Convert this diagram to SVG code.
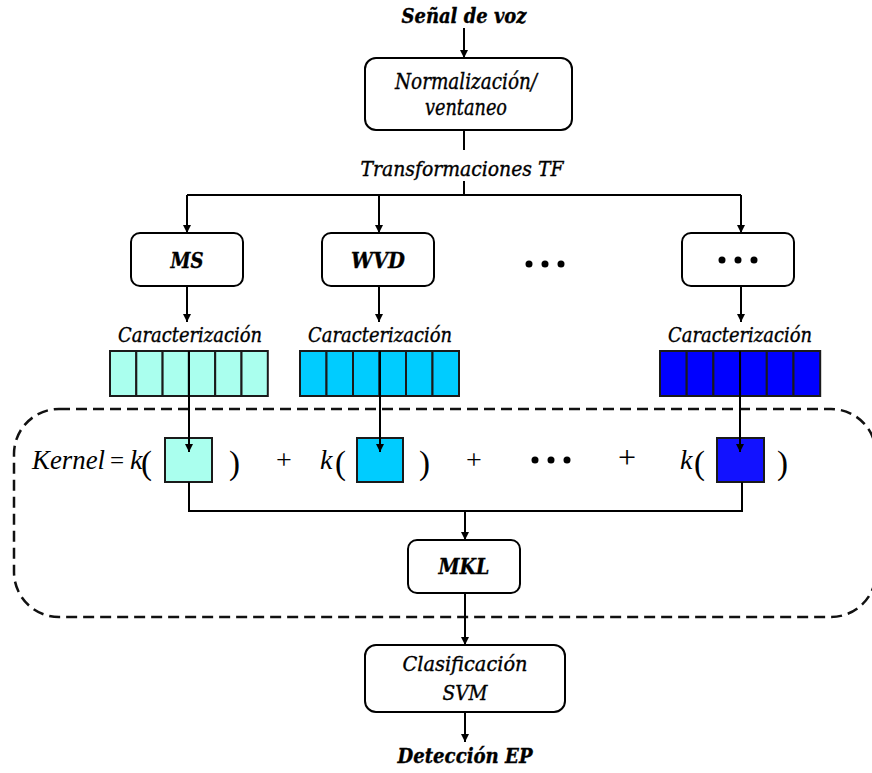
<svg xmlns="http://www.w3.org/2000/svg" width="872" height="773" viewBox="0 0 872 773">
<style>
.box{fill:#fff;stroke:#000;stroke-width:2}
.ln{fill:none;stroke:#000;stroke-width:2}
.t{font-family:"DejaVu Serif","Liberation Serif",serif;font-style:italic;font-stretch:condensed;fill:#000;stroke:#000;stroke-width:0.35}
.m{font-family:"Liberation Serif",serif;font-style:italic;fill:#000}
.r{font-family:"Liberation Serif",serif;fill:#000}
.b{font-weight:bold}
.cell{stroke:#1a1a1a;stroke-width:2}
.c1{fill:#aaffee}
.c2{fill:#00ccff}
.c3{fill:#0000ff}
.c3s{fill:#1212ff}
</style>
<defs>
<marker id="ah" viewBox="0 0 10 10" refX="10" refY="5" markerWidth="8" markerHeight="8" markerUnits="userSpaceOnUse" orient="auto">
<path d="M0,0 L10,5 L0,10 z" fill="#000"/>
</marker>
</defs>
<rect x="14" y="409" width="862" height="208" rx="45" fill="none" stroke="#111" stroke-width="2.5" stroke-dasharray="11 6"/>
<g id="input"><text class="t b" x="464" y="23" font-size="21" text-anchor="middle" textLength="125" lengthAdjust="spacingAndGlyphs">Señal de voz</text></g>
<g id="norm">
<rect class="box" x="365" y="58" width="207" height="72" rx="11"/>
<text class="t" x="466" y="89" font-size="22" text-anchor="middle" textLength="142" lengthAdjust="spacingAndGlyphs">Normalización/</text>
<text class="t" x="466" y="115" font-size="22" text-anchor="middle" textLength="82" lengthAdjust="spacingAndGlyphs">ventaneo</text>
</g>
<g id="tf-label"><text class="t" x="462" y="176" font-size="21" text-anchor="middle" textLength="203" lengthAdjust="spacingAndGlyphs">Transformaciones TF</text></g>
<g id="ms">
<rect class="box" x="131" y="233" width="112" height="53" rx="9"/>
<text class="t b" x="187" y="268" font-size="22" text-anchor="middle" textLength="33" lengthAdjust="spacingAndGlyphs">MS</text>
</g>
<g id="wvd">
<rect class="box" x="322" y="233" width="112" height="53" rx="9"/>
<text class="t b" x="378" y="268" font-size="22" text-anchor="middle" textLength="54" lengthAdjust="spacingAndGlyphs">WVD</text>
</g>
<g id="dots-mid">
<circle cx="529" cy="264" r="3.5"/><circle cx="545" cy="264" r="3.5"/><circle cx="561" cy="264" r="3.5"/>
</g>
<g id="other">
<rect class="box" x="682" y="233" width="112" height="53" rx="9"/>
<circle cx="722" cy="260" r="3.5"/><circle cx="738" cy="260" r="3.5"/><circle cx="754" cy="260" r="3.5"/>
</g>
<g id="feat1">
<text class="t" x="190" y="342" font-size="21" text-anchor="middle" textLength="144" lengthAdjust="spacingAndGlyphs">Caracterización</text>
<rect class="cell c1" x="110" y="351" width="26.3" height="45"/><rect class="cell c1" x="136.3" y="351" width="26.3" height="45"/><rect class="cell c1" x="162.6" y="351" width="26.3" height="45"/><rect class="cell c1" x="188.9" y="351" width="26.3" height="45"/><rect class="cell c1" x="215.2" y="351" width="26.3" height="45"/><rect class="cell c1" x="241.5" y="351" width="26.3" height="45"/>
</g>
<g id="feat2">
<text class="t" x="380" y="342" font-size="21" text-anchor="middle" textLength="144" lengthAdjust="spacingAndGlyphs">Caracterización</text>
<rect class="cell c2" x="300" y="351" width="26.5" height="45"/><rect class="cell c2" x="326.5" y="351" width="26.5" height="45"/><rect class="cell c2" x="353" y="351" width="26.5" height="45"/><rect class="cell c2" x="379.5" y="351" width="26.5" height="45"/><rect class="cell c2" x="406" y="351" width="26.5" height="45"/><rect class="cell c2" x="432.5" y="351" width="26.5" height="45"/>
</g>
<g id="feat3">
<text class="t" x="740" y="342" font-size="21" text-anchor="middle" textLength="144" lengthAdjust="spacingAndGlyphs">Caracterización</text>
<rect class="cell c3" x="660" y="351" width="26.7" height="45"/><rect class="cell c3" x="686.7" y="351" width="26.7" height="45"/><rect class="cell c3" x="713.4" y="351" width="26.7" height="45"/><rect class="cell c3" x="740.1" y="351" width="26.7" height="45"/><rect class="cell c3" x="766.8" y="351" width="26.7" height="45"/><rect class="cell c3" x="793.5" y="351" width="26.7" height="45"/>
</g>
<g id="kernel">
<text class="m" x="32" y="469" font-size="27" textLength="73" lengthAdjust="spacingAndGlyphs">Kernel</text>
<text class="r" x="110" y="469" font-size="25">=</text>
<text class="m" x="130" y="469" font-size="28">k</text>
<text class="r" x="141" y="474" font-size="33">(</text>
<rect class="cell c1" x="165" y="438" width="47" height="44"/>
<text class="r" x="229" y="474" font-size="33">)</text>
<text class="r" x="284" y="469" font-size="28" text-anchor="middle">+</text>
<text class="m" x="320" y="469" font-size="28">k</text>
<text class="r" x="335" y="474" font-size="33">(</text>
<rect class="cell c2" x="357" y="438" width="46" height="44"/>
<text class="r" x="419" y="474" font-size="33">)</text>
<text class="r" x="474" y="469" font-size="28" text-anchor="middle">+</text>
<circle cx="535" cy="460" r="3.5"/><circle cx="551" cy="460" r="3.5"/><circle cx="567" cy="460" r="3.5"/>
<text class="r" x="627" y="468" font-size="32" text-anchor="middle">+</text>
<text class="m" x="680" y="469" font-size="28">k</text>
<text class="r" x="694" y="474" font-size="33">(</text>
<rect class="cell c3s" x="717" y="438" width="47" height="44"/>
<text class="r" x="777" y="474" font-size="33">)</text>
</g>
<g id="mkl">
<rect class="box" x="408" y="540" width="112" height="53" rx="9"/>
<text class="t b" x="464" y="574" font-size="22" text-anchor="middle" textLength="51" lengthAdjust="spacingAndGlyphs">MKL</text>
</g>
<g id="svm">
<rect class="box" x="365" y="645" width="200" height="67" rx="11"/>
<text class="t" x="465" y="671" font-size="21" text-anchor="middle" textLength="125" lengthAdjust="spacingAndGlyphs">Clasificación</text>
<text class="t" x="465" y="700" font-size="21" text-anchor="middle" textLength="45" lengthAdjust="spacingAndGlyphs">SVM</text>
</g>
<g id="output"><text class="t b" x="465" y="763" font-size="21" text-anchor="middle" textLength="135" lengthAdjust="spacingAndGlyphs">Detección EP</text></g>
<g id="connectors">
<path class="ln" d="M464,28 V58" marker-end="url(#ah)"/>
<path class="ln" d="M464,130 V150"/>
<path class="ln" d="M464,181 V195"/>
<path class="ln" d="M187,195 H741"/>
<path class="ln" d="M187,195 V233" marker-end="url(#ah)"/>
<path class="ln" d="M379,195 V233" marker-end="url(#ah)"/>
<path class="ln" d="M741,195 V233" marker-end="url(#ah)"/>
<path class="ln" d="M187,286 V322" marker-end="url(#ah)"/>
<path class="ln" d="M379,286 V322" marker-end="url(#ah)"/>
<path class="ln" d="M741,286 V322" marker-end="url(#ah)"/>
<path class="ln" d="M189,351 V452" marker-end="url(#ah)"/>
<path class="ln" d="M380,351 V452" marker-end="url(#ah)"/>
<path class="ln" d="M740,351 V452" marker-end="url(#ah)"/>
<path class="ln" d="M189,482 V511 H742 V482"/>
<path class="ln" d="M465,511 V540" marker-end="url(#ah)"/>
<path class="ln" d="M465,593 V645" marker-end="url(#ah)"/>
<path class="ln" d="M465,712 V742" marker-end="url(#ah)"/>
</g>
</svg>
